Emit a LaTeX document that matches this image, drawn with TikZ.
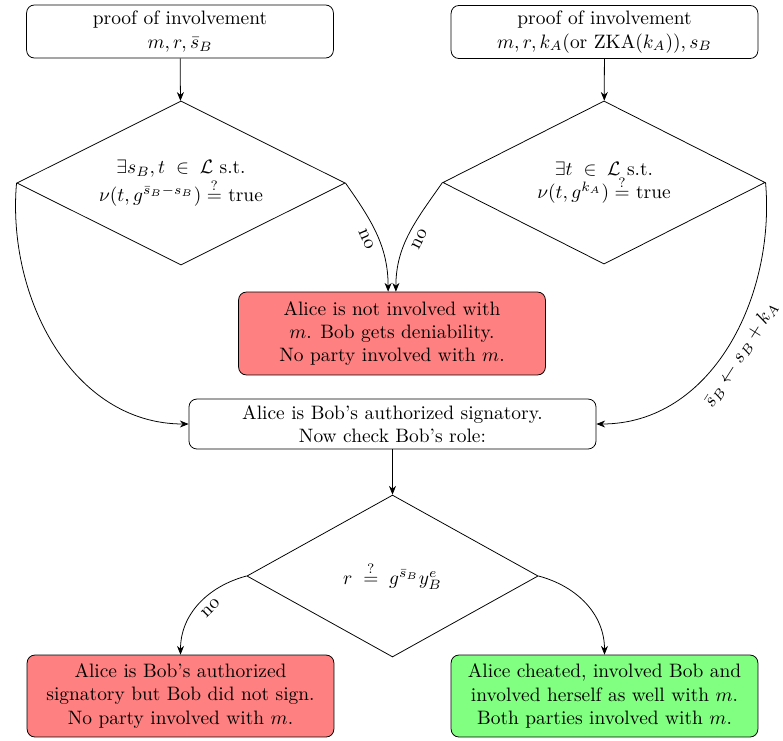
\documentclass[tikz,border=0pt]{standalone}
\usetikzlibrary{shapes.geometric,arrows.meta}
\begin{document}
\begin{tikzpicture}[x=0.515pt,y=0.515pt,
  box/.style={draw,rounded corners=4pt,align=center,inner sep=2pt,minimum width=158pt},
  dia/.style={draw,diamond,inner sep=0pt},
  diatext/.style={label={[align=center]center:#1}},
  conn/.style={draw,-{Stealth[length=4.5pt,width=3.6pt]}},
  redbox/.style={box,fill=red!50},
  greenbox/.style={box,fill=green!50}]
\useasboundingbox (0,0) rectangle (783,-740);
\node[box,minimum height=27.3pt] (tl) at (180,-31.5) {proof of involvement\\ $m, r, \bar{s}_B$};
\node[box,minimum height=27.3pt] (tr) at (604.5,-32) {proof of involvement\\ $m, r, k_A$(or ZKA$(k_A)$)$, s_B$};
\node[dia,minimum width=169pt,minimum height=84.5pt,
  diatext={$\exists s_B, t \;\in\; \mathcal{L}$ s.t.\\ $\nu(t, g^{\bar{s}_B - s_B}) \stackrel{?}{=}$ true}] (d1) at (181,-183) {};
\node[dia,minimum width=166pt,minimum height=84pt,
  diatext={$\exists t \;\in\; \mathcal{L}$ s.t.\\ $\nu(t, g^{k_A}) \stackrel{?}{=}$ true}] (d2) at (604,-182.5) {};
\node[redbox,minimum height=42.7pt] (r1) at (392,-333.5)
  {Alice is not involved with\\ $m$. Bob gets deniability.\\ No party involved with $m$.};
\node[box,minimum width=209.6pt,minimum height=25.7pt] (mid) at (392.5,-424)
  {Alice is Bob's authorized signatory.\\ Now check Bob's role:};
\node[dia,minimum width=150pt,minimum height=83.4pt,
  diatext={$r \;\stackrel{?}{=}\; g^{\bar{s}_B} y_B^e$}] (d3) at (392.5,-576) {};
\node[redbox,minimum height=42.2pt] (bl) at (180.5,-696)
  {Alice is Bob's authorized\\ signatory but Bob did not sign.\\ No party involved with $m$.};
\node[greenbox,minimum height=42.2pt] (br) at (604.5,-696)
  {Alice cheated, involved Bob and\\ involved herself as well with $m$.\\ Both parties involved with $m$.};
\draw[conn] (tl) -- (d1);
\draw[conn] (tr) -- (d2);
\draw[conn] (mid) -- (d3);
\draw[conn] (d1.east) to[out=-55,in=90] node[pos=0.5,sloped,below] {no} ([xshift=-2pt]r1.north);
\draw[conn] (d2.west) to[out=235,in=90] node[pos=0.5,sloped,below] {no} ([xshift=2pt]r1.north);
\draw[conn] (d1.west) to[out=-95,in=180] (mid.west);
\draw[conn] (d2.east) to[out=-85,in=0] node[pos=0.5,sloped,below] {$\bar{s}_B \leftarrow s_B + k_A$} (mid.east);
\draw[conn] (d3.west) to[out=195,in=90] node[pos=0.45,sloped,below] {no} (bl.north);
\draw[conn] (d3.east) to[out=-15,in=90] (br.north);
\end{tikzpicture}
\end{document}
